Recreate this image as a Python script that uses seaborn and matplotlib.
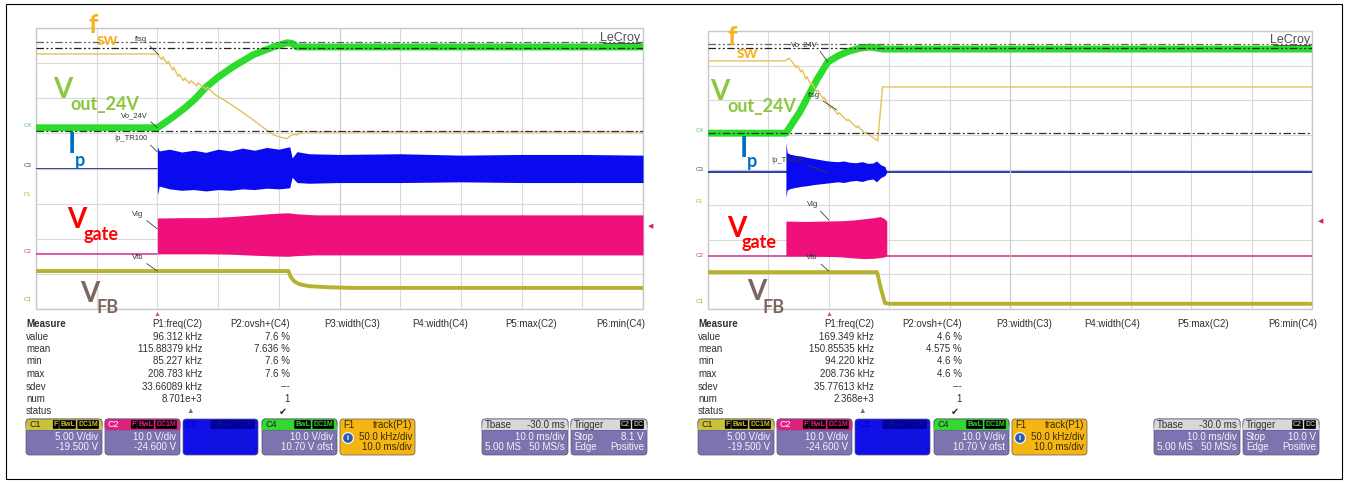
import numpy as np
import matplotlib.pyplot as plt
import seaborn as sns
from matplotlib.patches import Rectangle, FancyBboxPatch
from matplotlib.lines import Line2D

sns.set_style('white')
plt.rcParams['font.family'] = ['Liberation Sans', 'DejaVu Sans']

W, H = 1348, 483

# ---------- left capture (time in ms from trigger, level in divisions 0..8) ----------
L_vout_t = [-20, 0, 1.2, 2.6, 4.5, 6.2, 7.9, 10, 12.5, 15.8, 19.1, 21.4, 22.2, 23, 26, 80]
L_vout = [5.16, 5.16, 5.3, 5.47, 5.72, 5.98, 6.3, 6.6, 6.9, 7.24, 7.46, 7.58, 7.56, 7.46, 7.46, 7.46]

L_fsw_t = [-20, 0, 0.7, 0.9, 1.6, 1.8, 2.5, 2.7, 3.4, 3.6, 4.3, 4.5, 5.3, 5.5, 6.5, 6.7, 8.0, 8.2,
           9.5, 11, 12.5, 14, 15.8, 17.5, 19.1, 20.5, 21.4, 21.8, 22.4, 23, 24, 80]
L_fsw = [7.26, 7.26, 7.10, 7.18, 6.98, 7.05, 6.80, 6.88, 6.62, 6.68, 6.50, 6.58, 6.42, 6.50, 6.36, 6.44,
         6.25, 6.32, 6.10, 5.95, 5.78, 5.60, 5.38, 5.16, 4.96, 4.88, 4.85, 4.92, 4.97, 4.96, 5.04, 5.04]

L_ip_base = 4.0
L_ip_t = [0, 0.3, 2, 4, 6, 8, 10, 12, 14, 16, 18, 20, 21.8, 22.2, 23, 25, 30, 40, 50, 60, 70, 80]
L_ip_top = [4.62, 4.5, 4.55, 4.47, 4.52, 4.46, 4.55, 4.5, 4.58, 4.52, 4.6, 4.55, 4.62, 4.3, 4.48, 4.42,
            4.4, 4.42, 4.38, 4.4, 4.4, 4.38]
L_ip_bot = [3.25, 3.5, 3.42, 3.38, 3.4, 3.36, 3.4, 3.38, 3.42, 3.4, 3.44, 3.42, 3.45, 3.75, 3.6, 3.58,
            3.6, 3.6, 3.62, 3.6, 3.6, 3.6]

L_vg_base = 1.57
L_vg_t = [0, 4, 8, 12, 16, 19, 21.5, 23, 26, 30, 80]
L_vg_top = [2.59, 2.6, 2.6, 2.63, 2.68, 2.72, 2.74, 2.71, 2.68, 2.68, 2.68]
L_vg_bot = [1.57, 1.57, 1.57, 1.56, 1.53, 1.51, 1.5, 1.52, 1.54, 1.54, 1.54]

L_fb_t = [-20, 21.6, 22.0, 22.6, 23.5, 25, 28, 32, 40, 80]
L_fb = [1.08, 1.08, 0.9, 0.78, 0.7, 0.65, 0.62, 0.6, 0.6, 0.6]

L_cursors = [7.6, 7.44, 5.07]

# ---------- right capture ----------
R_vout_t = [-20, -7.1, -4.8, -2.0, -0.2, 1.5, 3.0, 5, 6.8, 9, 80]
R_vout = [5.06, 5.06, 5.67, 6.59, 7.1, 7.28, 7.4, 7.5, 7.54, 7.48, 7.48]

R_fsw_t = [-20, -7.2, -6.6, -6.0, -5.4, -5.2, -4.6, -4.4, -3.8, -3.6, -3.0, -2.8, -2.0, -1.8, -1.0, -0.8,
           0.2, 0.4, 1.5, 1.7, 3.0, 3.2, 4.6, 4.8, 6.0, 6.2, 7.4, 8.1, 8.9, 80]
R_fsw = [7.14, 7.14, 7.22, 7.10, 6.95, 7.00, 6.82, 6.88, 6.62, 6.68, 6.45, 6.50, 6.25, 6.30, 6.05, 6.10,
         5.78, 5.83, 5.60, 5.65, 5.42, 5.46, 5.22, 5.27, 5.05, 5.09, 4.92, 4.84, 6.39, 6.39]

R_ip_base = 3.94
R_ip_t = [-7.1, -6.9, -6.5, -5.5, -4.5, -3.5, -2.5, -1.5, -0.5, 0.5, 1.5, 2.5, 3.5, 4.5, 5.5, 6.5, 7.3,
          7.9, 8.6, 9.3, 9.6]
R_ip_top = [4.8, 4.5, 4.46, 4.42, 4.4, 4.36, 4.33, 4.3, 4.27, 4.25, 4.24, 4.26, 4.22, 4.21, 4.24, 4.19,
            4.2, 4.26, 4.15, 4.1, 3.94]
R_ip_bot = [3.22, 3.42, 3.46, 3.5, 3.53, 3.55, 3.58, 3.6, 3.62, 3.64, 3.66, 3.64, 3.68, 3.7, 3.67, 3.72,
            3.74, 3.66, 3.78, 3.84, 3.94]

R_vg_base = 1.53
R_vg_t = [-7.1, -4, -1, 2, 4, 6, 7.5, 8.5, 9.2, 9.6]
R_vg_top = [2.53, 2.52, 2.53, 2.54, 2.56, 2.6, 2.63, 2.66, 2.6, 2.53]
R_vg_bot = [1.53, 1.53, 1.52, 1.5, 1.47, 1.45, 1.46, 1.48, 1.5, 1.53]

R_fb_t = [-20, 8.0, 8.6, 9.3, 10, 80]
R_fb = [1.06, 1.06, 0.6, 0.17, 0.15, 0.15]

R_cursors = [7.63, 7.51, 5.06]

# ---------- measurement table / status boxes ----------
meas_rows = ['value', 'mean', 'min', 'max', 'sdev', 'num', 'status']
meas_heads = ['P1:freq(C2)', 'P2:ovsh+(C4)', 'P3:width(C3)', 'P4:width(C4)', 'P5:max(C2)', 'P6:min(C4)']
L_p1 = ['96.312 kHz', '115.88379 kHz', '85.227 kHz', '208.783 kHz', '33.66089 kHz', '8.701e+3', '\u25b2']
L_p2 = ['7.6 %', '7.636 %', '7.6 %', '7.6 %', '---', '1', '\u2714']
R_p1 = ['169.349 kHz', '150.85535 kHz', '94.220 kHz', '208.736 kHz', '35.77613 kHz', '2.368e+3', '\u25b2']
R_p2 = ['4.6 %', '4.575 %', '4.6 %', '4.6 %', '---', '1', '\u2714']

ch_names = ['C1', 'C2', 'C3', 'C4']
ch_scale = ['5.00 V/div', '10.0 V/div', '5.00 A/div', '10.0 V/div']
ch_offset = ['-19.500 V', '-24.600 V', '0 mA ofst', '10.70 V ofst']
L_trig_level = '8.1 V'
R_trig_level = '10.0 V'

# colours
GREEN, YEL, BLUE, MAG, OLIVE = '#2bdc2b', '#e4c25a', '#0a0af0', '#f0107c', '#b5b230'
PURPLE = '#7e72b0'
HEAD = ['#c9c23a', '#e0207f', '#1010e8', '#33d833']

fig = plt.figure(figsize=(W / 100, H / 100), dpi=100)


def fx(x):
    return x / W


def fy(y):
    return 1 - y / H


def setup(ax):
    ax.set_xlim(-20, 80)
    ax.set_ylim(0, 8)
    ax.set_xticks(np.arange(-20, 81, 10))
    ax.set_yticks(np.arange(0, 9, 1))
    ax.set_xticks(np.arange(-20, 80.01, 2), minor=True)
    ax.set_yticks(np.arange(0, 8.01, 0.2), minor=True)
    ax.grid(True, which='major', color='#dadada', lw=0.8)
    ax.set_axisbelow(True)
    ax.tick_params(which='major', length=0, labelbottom=False, labelleft=False)
    ax.tick_params(which='minor', length=5, width=0.6, direction='inout', color='#b8b8b8')
    ax.spines['left'].set_position(('data', 30))
    ax.spines['bottom'].set_position(('data', 4))
    for s in ['left', 'bottom']:
        ax.spines[s].set_color('#cccccc')
        ax.spines[s].set_linewidth(0.8)
    ax.spines['top'].set_visible(False)
    ax.spines['right'].set_visible(False)
    ax.add_patch(Rectangle((0, 0), 1, 1, transform=ax.transAxes, fill=False,
                           ec='#c8c8c8', lw=1, clip_on=False))


def traces(ax, vout_t, vout, fsw_t, fsw, ip_base, ip_t, ip_top, ip_bot,
           vg_base, vg_t, vg_top, vg_bot, fb_t, fb, cursors, start, right_base):
    # baselines before switching starts
    sns.lineplot(x=[-20, 80 if right_base else start], y=[ip_base, ip_base], ax=ax,
                 color='#2b3aa8', lw=1.4, estimator=None)
    sns.lineplot(x=[-20, 80 if right_base else start], y=[vg_base, vg_base], ax=ax,
                 color='#d0308a', lw=1.1, estimator=None)
    ax.fill_between(ip_t, ip_bot, ip_top, color=BLUE, lw=0, zorder=3)
    ax.fill_between(vg_t, vg_bot, vg_top, color=MAG, lw=0, zorder=3)
    sns.lineplot(x=fb_t, y=fb, ax=ax, color=OLIVE, lw=2.8, sort=False, estimator=None, zorder=4)
    sns.lineplot(x=vout_t, y=vout, ax=ax, color=GREEN, lw=5, sort=False, estimator=None, zorder=4)
    sns.lineplot(x=fsw_t, y=fsw, ax=ax, color=YEL, lw=1.0, sort=False, estimator=None, zorder=5)
    ax.axhline(cursors[0], color='#606060', lw=0.9, dashes=(6, 2, 1.5, 2, 1.5, 2), zorder=6)
    ax.axhline(cursors[1], color='#202020', lw=0.9, dashes=(6, 2, 1.5, 2, 1.5, 2), zorder=6)
    ax.axhline(cursors[2], color='#303030', lw=0.9, dashes=(6, 2, 1.5, 2), zorder=6)
    ax.set_xlabel('')
    ax.set_ylabel('')


def tag(ax, text, xy, xytext, angle):
    ax.annotate(text, xy=xy, xytext=xytext, fontsize=5.5, color='#333333', ha='right', va='bottom',
                zorder=7,
                arrowprops=dict(arrowstyle='-', color='#404040', lw=0.6, shrinkA=0, shrinkB=0,
                                relpos=(0, 0),
                                connectionstyle=f'angle,angleA=0,angleB={angle},rad=0'))


axL = fig.add_axes([fx(36), fy(309), 607 / W, 281 / H])
axR = fig.add_axes([fx(708), fy(309), 604 / W, 278 / H])
for ax in (axL, axR):
    setup(ax)

traces(axL, L_vout_t, L_vout, L_fsw_t, L_fsw, L_ip_base, L_ip_t, L_ip_top, L_ip_bot,
       L_vg_base, L_vg_t, L_vg_top, L_vg_bot, L_fb_t, L_fb, L_cursors, 0, False)
traces(axR, R_vout_t, R_vout, R_fsw_t, R_fsw, R_ip_base, R_ip_t, R_ip_top, R_ip_bot,
       R_vg_base, R_vg_t, R_vg_top, R_vg_bot, R_fb_t, R_fb, R_cursors, -7.1, True)

tag(axL, 'flsg', (0.2, 7.24), (-1.65, 7.58), -45)
tag(axL, 'Vo_24V', (0, 5.16), (-1.65, 5.41), -42)
tag(axL, 'Ip_TR100', (0, 4.47), (-1.65, 4.76), -45)
tag(axL, 'Vlg', (0, 2.28), (-2.3, 2.59), -38)
tag(axL, 'Vfb', (0, 1.08), (-2.3, 1.37), -35)

tag(axR, 'Vo_24V', (-0.17, 7.11), (-1.82, 7.51), -54)
tag(axR, 'flsg', (1.32, 5.73), (-1.49, 6.04), -33)
tag(axR, 'Ip_TR100', (-0.3, 3.92), (-3.97, 4.17), -22)
tag(axR, 'Vlg', (0, 2.56), (-1.82, 2.91), -47)
tag(axR, 'Vfb', (0, 1.09), (-1.82, 1.38), -42)

# LeCroy logo text
for xr, yb in [(640, 41), (1310, 43)]:
    fig.text(fx(xr), fy(yb), 'LeCroy', fontsize=9, color='#505050', ha='right', va='baseline')
    fig.add_artist(Line2D([fx(xr - 37), fx(xr)], [fy(yb + 2), fy(yb + 2)], color='#505050',
                          lw=0.7, transform=fig.transFigure))

# channel tags on the left of each grid
for ox, ys in [(0, [128, 168, 197, 254, 302]), (672, [133, 172, 204, 258, 304])]:
    for name, c, y in zip(['C4', 'C3', 'F1', 'C2', 'C1'],
                          ['#6cc36c', '#404080', '#c8b830', '#d04090', '#a0a030'], ys):
        fig.text(fx(24 + ox), fy(y), name, fontsize=4.5, color=c, va='bottom')

# trigger markers
for x, y in [(648, 227), (1318, 222)]:
    fig.text(fx(x), fy(y), '\u25c0', fontsize=5, color='#d02070', ha='left', va='center')
for x in [157, 829]:
    fig.text(fx(x), fy(314), '\u25b2', fontsize=5, color='#d05080', ha='center', va='center')

# big coloured signal names
BIG = dict(family=['Lato', 'DejaVu Sans'], weight='bold', va='baseline')
big_labels = [
    # (x_left, baseline, text, size, colour) for left panel, then right panel
    [(88, 33, 'f', 19, '#f7b11e'), (97, 45, 'sw', 12.5, '#f7b11e'),
     (53, 98, 'V', 20, '#8dc63f'), (70, 110, 'out_24V', 13, '#8dc63f'),
     (68, 153, 'I', 20, '#0070c0'), (75, 166, 'p', 13, '#0070c0'),
     (67, 228, 'V', 20, '#ff0000'), (83, 240, 'gate', 13, '#ff0000'),
     (80, 302, 'V', 20, '#7f6560'), (97, 313, 'FB', 13, '#7f6560')],
    [(727, 45, 'f', 19, '#f7b11e'), (737, 58, 'sw', 12.5, '#f7b11e'),
     (710, 100, 'V', 20, '#8dc63f'), (727, 112, 'out_24V', 13, '#8dc63f'),
     (740, 157, 'I', 20, '#0070c0'), (747, 167, 'p', 13, '#0070c0'),
     (727, 237, 'V', 20, '#ff0000'), (742, 248, 'gate', 13, '#ff0000'),
     (747, 300, 'V', 20, '#7f6560'), (763, 313, 'FB', 13, '#7f6560')]]
for group in big_labels:
    for x, y, t, s, c in group:
        fig.text(fx(x), fy(y), t, fontsize=s, color=c, **BIG)

# measurement tables
rows_y = [324, 336.5, 349, 361.5, 374, 386.5, 399, 411.5]
head_x = [202, 290, 380, 468, 557, 645]
TXT = dict(fontsize=7, color='#303030', va='center')
for ox, p1, p2 in [(0, L_p1, L_p2), (672, R_p1, R_p2)]:
    fig.text(fx(26 + ox), fy(rows_y[0]), 'Measure', weight='bold', ha='left', **TXT)
    for hx, h in zip(head_x, meas_heads):
        fig.text(fx(hx + ox), fy(rows_y[0]), h, ha='right', **TXT)
    for i, r in enumerate(meas_rows):
        fig.text(fx(26 + ox), fy(rows_y[i + 1]), r, ha='left', **TXT)
        c1 = '#707070' if i == 6 else '#303030'
        fig.text(fx(head_x[0] - 8 * (i == 6) + ox), fy(rows_y[i + 1]), p1[i], ha='right',
                 fontsize=7 if i < 6 else 5.5, color=c1, va='center')
        fig.text(fx(head_x[1] - 3 * (i == 6) + ox), fy(rows_y[i + 1]), p2[i], ha='right',
                 fontsize=7, color='#303030', va='center')


def rbox(x0, y0, x1, y1, fc, rounded=True):
    if rounded:
        p = FancyBboxPatch((fx(x0), fy(y1)), (x1 - x0) / W, (y1 - y0) / H,
                           boxstyle='round,pad=0,rounding_size=0.0025', mutation_aspect=W / H,
                           transform=fig.transFigure, fc=fc, ec='#555570', lw=0.5)
    else:
        p = Rectangle((fx(x0), fy(y1)), (x1 - x0) / W, (y1 - y0) / H,
                      transform=fig.transFigure, fc=fc, ec='none')
    fig.patches.append(p)


def chip(x, y, t, c, bg='black'):
    fig.text(fx(x), fy(y), t, fontsize=5, color=c, ha='right', va='center', weight='bold',
             bbox=dict(boxstyle='round,pad=0.12', fc=bg, ec='none'))


Y0, Y1 = 419, 455
R2, R3, RH = 437, 447, 424.5
WHITE = dict(fontsize=7, color='#f4f4f4', va='center')
ch_x = [(26, 102), (105, 180), (183, 258), (262, 337)]
for ox, trig in [(0, L_trig_level), (672, R_trig_level)]:
    for k, (a, b) in enumerate(ch_x):
        a, b = a + ox, b + ox
        if k == 2:
            rbox(a, Y0, b, Y1, HEAD[2])
            fig.text(fx(a + 3), fy(RH), ch_names[k], fontsize=6.5, color='#0000c0', va='center')
            chip(b - 4, RH, 'F BwL DC1M', '#0a0ab0', bg='#000090')
            fig.text(fx(b - 4), fy(R2), ch_scale[k], ha='right', fontsize=7, color='#1818c8', va='center')
            fig.text(fx(b - 4), fy(R3), ch_offset[k], ha='right', fontsize=7, color='#1818c8', va='center')
            continue
        rbox(a, Y0, b, Y1, PURPLE)
        rbox(a, Y0, b, Y0 + 11, HEAD[k])
        rbox(a, Y0 + 6, b, Y0 + 11, HEAD[k], rounded=False)
        fig.text(fx(a + 3), fy(RH), ch_names[k], fontsize=6.5,
                 color='#ffffff' if k == 1 else '#202020', va='center')
        chip(b - 4, RH, 'DC1M', HEAD[k])
        chip(b - 27, RH, 'BwL', HEAD[k])
        if k != 3:
            chip(b - 44, RH, 'F', HEAD[k])
        fig.text(fx(b - 4), fy(R2), ch_scale[k], ha='right', **WHITE)
        fig.text(fx(b - 4), fy(R3), ch_offset[k], ha='right', **WHITE)

    # math trace F1
    a, b = 340 + ox, 415 + ox
    rbox(a, Y0, b, Y1, '#f5b614')
    DARK = dict(fontsize=7, color='#3a2a00', va='center')
    fig.text(fx(a + 3), fy(RH), 'F1', ha='left', **DARK)
    fig.text(fx(b - 3), fy(RH), 'track(P1)', ha='right', **DARK)
    fig.text(fx(a + 8), fy(438), 'i', fontsize=5.5, color='white', weight='bold', ha='center', va='center',
             bbox=dict(boxstyle='circle,pad=0.25', fc='#2a5db0', ec='white', lw=0.8))
    fig.text(fx(b - 3), fy(R2), '50.0 kHz/div', ha='right', **DARK)
    fig.text(fx(b - 3), fy(R3), '10.0 ms/div', ha='right', **DARK)

    # timebase
    a, b = 482 + ox, 568 + ox
    rbox(a, Y0, b, Y1, PURPLE)
    rbox(a, Y0, b, Y0 + 11, '#d8d8d8')
    rbox(a, Y0 + 6, b, Y0 + 11, '#d8d8d8', rounded=False)
    fig.text(fx(a + 3), fy(RH), 'Tbase', ha='left', fontsize=7, color='#303030', va='center')
    fig.text(fx(b - 3), fy(RH), '-30.0 ms', ha='right', fontsize=7, color='#303030', va='center')
    fig.text(fx(b - 3), fy(R2), '10.0 ms/div', ha='right', **WHITE)
    fig.text(fx(a + 3), fy(R3), '5.00 MS', ha='left', **WHITE)
    fig.text(fx(b - 3), fy(R3), '50 MS/s', ha='right', **WHITE)

    # trigger
    a, b = 571 + ox, 647 + ox
    rbox(a, Y0, b, Y1, PURPLE)
    rbox(a, Y0, b, Y0 + 11, '#d8d8d8')
    rbox(a, Y0 + 6, b, Y0 + 11, '#d8d8d8', rounded=False)
    fig.text(fx(a + 3), fy(RH), 'Trigger', ha='left', fontsize=7, color='#303030', va='center')
    chip(b - 4, RH, 'DC', '#b0b0b0')
    chip(b - 17, RH, 'C2', '#b0b0b0')
    fig.text(fx(a + 3), fy(R2), 'Stop', ha='left', **WHITE)
    fig.text(fx(b - 3), fy(R2), trig, ha='right', **WHITE)
    fig.text(fx(a + 3), fy(R3), 'Edge', ha='left', **WHITE)
    fig.text(fx(b - 3), fy(R3), 'Positive', ha='right', **WHITE)

# outer frame
fig.patches.append(Rectangle((fx(6), fy(479)), 1336 / W, 475 / H, transform=fig.transFigure,
                             fill=False, ec='black', lw=0.8))

fig.savefig('out.png', dpi=100)
